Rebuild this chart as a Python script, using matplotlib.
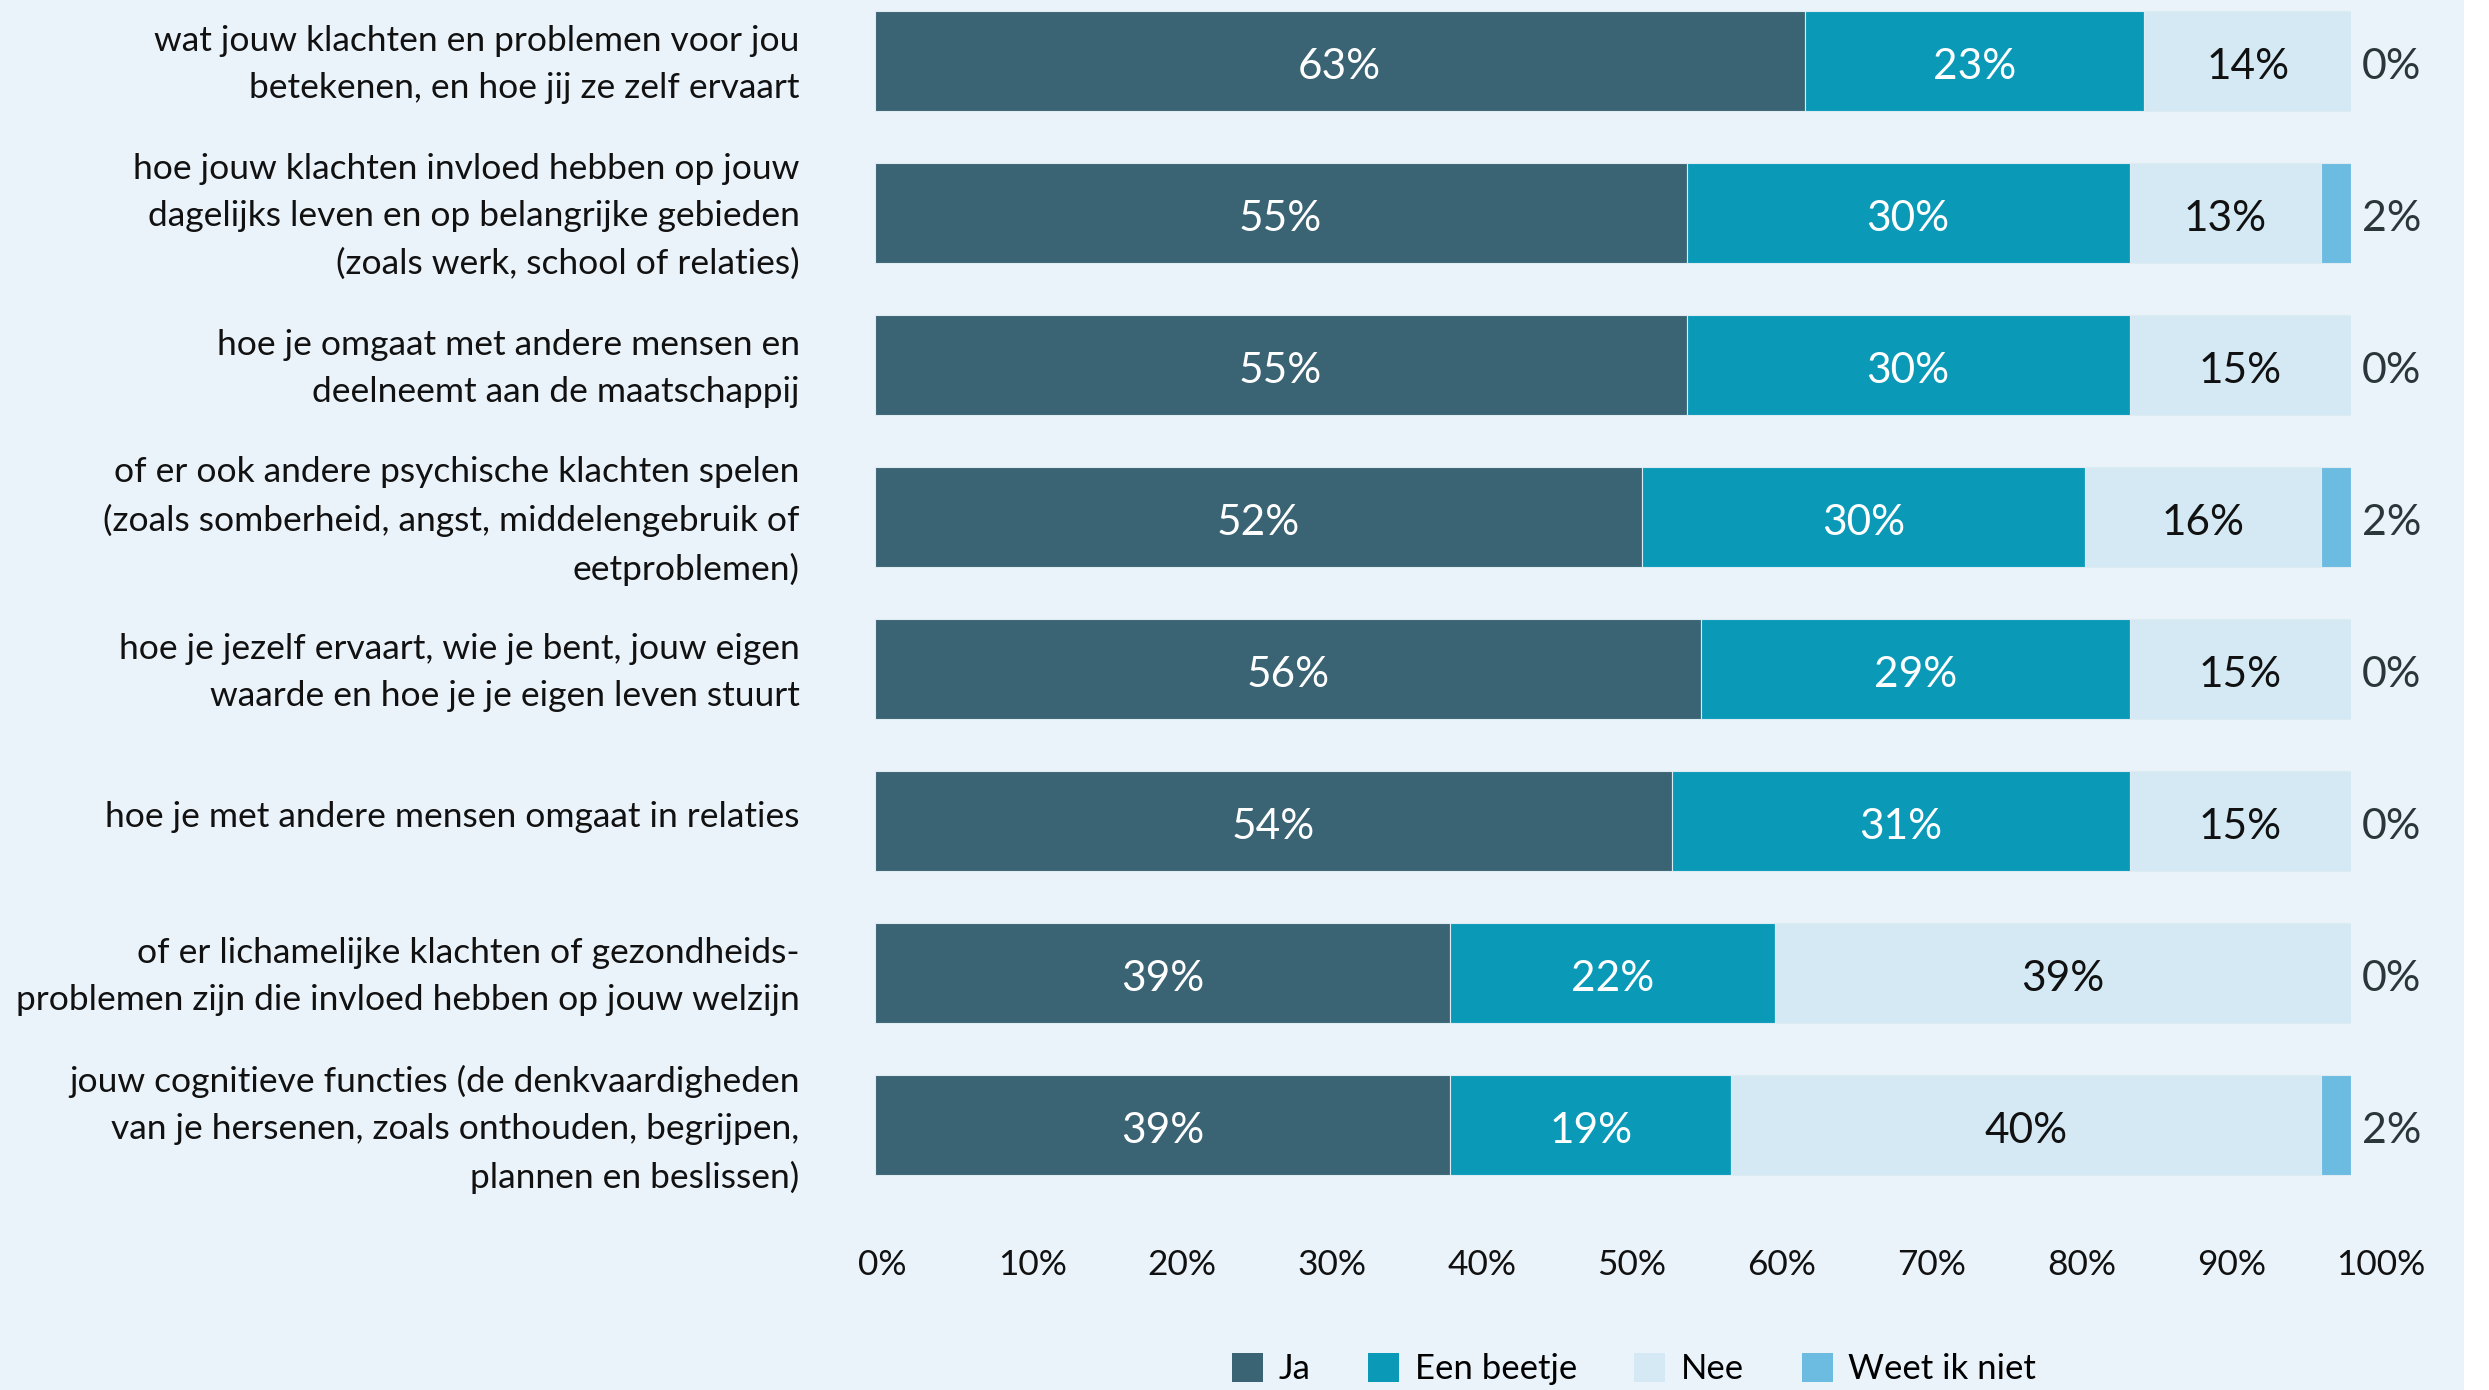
import matplotlib
matplotlib.use("Agg")
import matplotlib.pyplot as plt
from matplotlib.patches import Rectangle, Patch
from matplotlib.transforms import ScaledTranslation
import numpy as np

plt.rcParams['font.family'] = ['Lato', 'DejaVu Sans']

categories = [
    "wat jouw klachten en problemen voor jou\nbetekenen, en hoe jij ze zelf ervaart",
    "hoe jouw klachten invloed hebben op jouw\ndagelijks leven en op belangrijke gebieden\n(zoals werk, school of relaties)",
    "hoe je omgaat met andere mensen en\ndeelneemt aan de maatschappij",
    "of er ook andere psychische klachten spelen\n(zoals somberheid, angst, middelengebruik of\neetproblemen)",
    "hoe je jezelf ervaart, wie je bent, jouw eigen\nwaarde en hoe je je eigen leven stuurt",
    "hoe je met andere mensen omgaat in relaties",
    "of er lichamelijke klachten of gezondheids-\nproblemen zijn die invloed hebben op jouw welzijn",
    "jouw cognitieve functies (de denkvaardigheden\nvan je hersenen, zoals onthouden, begrijpen,\nplannen en beslissen)",
]
series_names = ["Ja", "Een beetje", "Nee", "Weet ik niet"]
ja = [63, 55, 55, 52, 56, 54, 39, 39]
een_beetje = [23, 30, 30, 30, 29, 31, 22, 19]
nee = [14, 13, 15, 16, 15, 15, 39, 40]
weet_niet = [0, 2, 0, 2, 0, 0, 0, 2]
xticks = [0, 10, 20, 30, 40, 50, 60, 70, 80, 90, 100]
xticklabels = [f"{t}%" for t in xticks]

colors = ["#3A6374", "#0A9AB8", "#D4E9F4", "#6CBBE0"]
text_colors = ["white", "white", "#111111", "#2B363B"]
bg = "#EBF3FA"

W, H = 2489, 1390
fig = plt.figure(figsize=(W / 100, H / 100), dpi=100, facecolor="white")
fig.patches.append(Rectangle((0, 0), 2464 / W, 1, transform=fig.transFigure,
                             facecolor=bg, edgecolor="none", zorder=-10))

ax_left = 874.6 / W
ax_right = 2351 / W
ax_top = 1.0
ax_bottom = 1 - 1200 / H
ax = fig.add_axes([ax_left, ax_bottom, ax_right - ax_left, ax_top - ax_bottom])
ax.set_facecolor("none")

data = [ja, een_beetje, nee, weet_niet]
y = np.arange(len(categories))
left = np.zeros(len(categories))
for i, (vals, c) in enumerate(zip(data, colors)):
    vals = np.array(vals, dtype=float)
    ax.barh(y, vals, left=left, height=0.66, color=c, edgecolor="#DDEBF3",
            linewidth=0.8, label=series_names[i])
    for j, v in enumerate(vals):
        if i < 3:
            ax.text(left[j] + v / 2, y[j] + 0.04, f"{int(v)}%", ha="center", va="center",
                    color=text_colors[i], fontsize=30.5)
        else:
            ax.text(100 + 0.75, y[j] + 0.04, f"{int(v)}%", ha="left", va="center",
                    color=text_colors[i], fontsize=31)
    left += vals

ax.set_xlim(0, 100)
ax.set_ylim(7.493, -0.401)
ax.set_yticks(y)
ax.set_yticklabels(categories, fontsize=25.5, linespacing=1.58, color="#111111")
ax.set_xticks([])
ax.tick_params(axis="y", length=0, pad=54)
shift = ScaledTranslation(0, 5 / 72, fig.dpi_scale_trans)
for lbl in ax.get_yticklabels():
    lbl.set_transform(lbl.get_transform() + shift)
for s in ax.spines.values():
    s.set_visible(False)

# tick-label axis (labels in the reference are spaced slightly wider than the bars)
tx_left = 882.6 / W
tx_right = 2381 / W
axt = fig.add_axes([tx_left, ax_bottom, tx_right - tx_left, 0.001])
axt.set_facecolor("none")
axt.set_xlim(0, 100)
axt.set_yticks([])
axt.set_xticks(xticks)
axt.set_xticklabels(xticklabels, fontsize=25.4, color="#111111")
axt.tick_params(axis="x", length=0, pad=35)
for s in axt.spines.values():
    s.set_visible(False)

handles = [Patch(facecolor=c, edgecolor="none") for c in colors]
fig.legend(handles, series_names, loc="center", bbox_to_anchor=(1634 / W, 1 - 1369 / H),
           ncol=4, frameon=False, fontsize=25, handlelength=0.9, handleheight=0.9,
           handletextpad=0.45, columnspacing=1.65)

fig.savefig("out.png", dpi=100, facecolor="white")
